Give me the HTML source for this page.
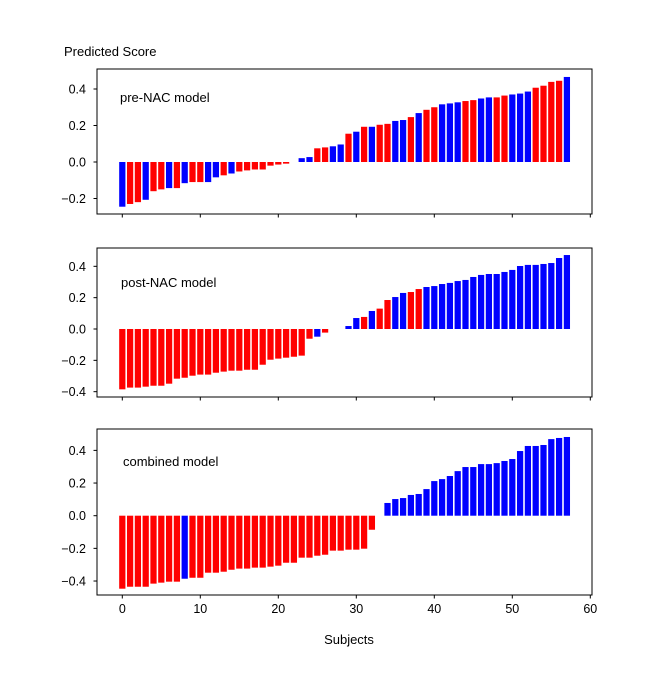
<!DOCTYPE html>
<html><head><meta charset="utf-8"><style>
html,body{margin:0;padding:0;background:#fff;}
svg{display:block;font-family:"Liberation Sans",sans-serif;}
</style></head><body>
<svg id="chart" width="671" height="693" viewBox="0 0 671 693" xmlns="http://www.w3.org/2000/svg">
<rect width="671" height="693" fill="#fff"/>
<text x="64" y="56" font-size="13" fill="#000">Predicted Score</text>
<text x="349" y="644" font-size="13" fill="#000" text-anchor="middle">Subjects</text>
</svg>
<script>
const R = 'r', B = 'b';
const preValues = [-0.245,-0.23,-0.22,-0.207,-0.16,-0.15,-0.143,-0.143,-0.116,-0.11,-0.11,-0.11,-0.084,-0.073,-0.063,-0.052,-0.046,-0.041,-0.041,-0.02,-0.014,-0.009,0,0.021,0.027,0.075,0.08,0.086,0.096,0.155,0.166,0.193,0.193,0.204,0.209,0.225,0.23,0.246,0.268,0.286,0.3,0.316,0.321,0.327,0.334,0.339,0.348,0.354,0.354,0.364,0.37,0.375,0.386,0.407,0.418,0.439,0.445,0.466];
const preColors = [B,R,R,B,R,R,B,R,B,R,R,B,B,R,B,R,R,R,R,R,R,R,R,B,B,R,R,B,B,R,B,R,B,R,R,B,B,R,B,R,R,B,B,B,R,R,B,B,R,R,B,B,B,R,R,R,R,B];
const postValues = [-0.385,-0.374,-0.374,-0.368,-0.362,-0.362,-0.349,-0.317,-0.311,-0.298,-0.291,-0.291,-0.279,-0.272,-0.266,-0.266,-0.26,-0.26,-0.228,-0.196,-0.189,-0.183,-0.177,-0.17,-0.062,-0.049,-0.023,0,0,0.019,0.07,0.077,0.115,0.13,0.185,0.204,0.23,0.236,0.255,0.268,0.274,0.287,0.294,0.306,0.313,0.332,0.345,0.351,0.351,0.364,0.377,0.402,0.409,0.409,0.415,0.421,0.453,0.472];
const postColors = [R,R,R,R,R,R,R,R,R,R,R,R,R,R,R,R,R,R,R,R,R,R,R,R,R,B,R,R,R,B,B,R,B,R,R,B,B,R,R,B,B,B,B,B,B,B,B,B,B,B,B,B,B,B,B,B,B,B];
const combValues = [-0.447,-0.435,-0.435,-0.435,-0.416,-0.41,-0.404,-0.404,-0.386,-0.38,-0.38,-0.349,-0.349,-0.343,-0.331,-0.324,-0.324,-0.318,-0.318,-0.312,-0.306,-0.288,-0.288,-0.257,-0.257,-0.245,-0.239,-0.214,-0.214,-0.208,-0.208,-0.202,-0.086,0,0.078,0.102,0.108,0.127,0.133,0.163,0.212,0.224,0.243,0.273,0.298,0.298,0.316,0.316,0.322,0.335,0.347,0.396,0.427,0.427,0.433,0.469,0.476,0.482];
const combColors = [R,R,R,R,R,R,R,R,B,R,R,R,R,R,R,R,R,R,R,R,R,R,R,R,R,R,R,R,R,R,R,R,R,B,B,B,B,B,B,B,B,B,B,B,B,B,B,B,B,B,B,B,B,B,B,B,B,B];
const xTicks = [0,10,20,30,40,50,60];
const preTicks = [-0.2,0.0,0.2,0.4];
const fullTicks = [-0.4,-0.2,0.0,0.2,0.4];
const panelLabels = ['pre-NAC model','post-NAC model','combined model'];

const svg = document.getElementById('chart');
const NS = 'http://www.w3.org/2000/svg';
function mk(tag, attrs, parent){const e=document.createElementNS(NS,tag);for(const k in attrs)e.setAttribute(k,attrs[k]);(parent||svg).appendChild(e);return e;}
const xScale = v => 122.3 + v*7.8;

const panels = [
 {vals:preValues, cols:preColors, ticks:preTicks, top:69, bottom:214, zero:162, k:182.5, lx:120, ly:102},
 {vals:postValues, cols:postColors, ticks:fullTicks, top:248, bottom:397, zero:329, k:156.7, lx:121, ly:287},
 {vals:combValues, cols:combColors, ticks:fullTicks, top:429, bottom:595, zero:515.7, k:163.3, lx:123, ly:466}
];
panels.forEach((p, pi) => {
  const g = mk('g', {});
  
  
  const yScale = v => p.zero - v*p.k;
  p.vals.forEach((v, i) => {
    const y0 = yScale(0), y1 = yScale(v);
    const r = mk('rect', {x: xScale(i)-3.12, y: Math.min(y0,y1), width: 6.24, height: Math.abs(y1-y0), fill: p.cols[i]===R ? '#ff0000' : '#0000ff'}, g);
    
    
  });
  const frame = mk('rect', {x:97, y:p.top, width:495, height:p.bottom-p.top, fill:'none', stroke:'#000', 'stroke-width':1}, g);
  
  
  p.ticks.forEach(t => {
    const y = yScale(t);
    mk('line', {x1:93.5, x2:97, y1:y, y2:y, stroke:'#000', 'stroke-width':1}, g);
    const tx = mk('text', {x:86, y:y+4.5, 'font-size':12.5, 'text-anchor':'end', fill:'#000'}, g);
    tx.textContent = t.toFixed(1).replace('-', '\u2212');
    
    
  });
  xTicks.forEach(t => {
    const x = xScale(t);
    mk('line', {x1:x, x2:x, y1:p.bottom, y2:p.bottom+3.5, stroke:'#000', 'stroke-width':1}, g);
    if (pi === 2) {
      const tx = mk('text', {x:x, y:p.bottom+18, 'font-size':12.5, 'text-anchor':'middle', fill:'#000'}, g);
      tx.textContent = t;
      
      
    }
  });
  const lab = mk('text', {x:p.lx, y:p.ly, 'font-size':13, fill:'#000'}, g);
  lab.textContent = panelLabels[pi];
  
  
});
</script>
</body></html>
